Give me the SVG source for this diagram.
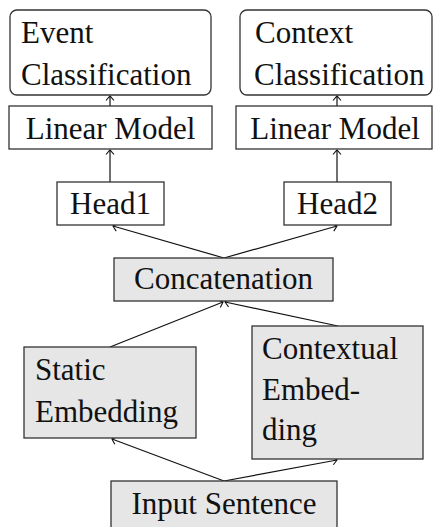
<svg xmlns="http://www.w3.org/2000/svg" width="433" height="527" viewBox="0 0 433 527">
  <defs>
    <!-- open "to"-style arrowhead shared by every connector -->
    <marker id="to" viewBox="-6 -5 8 10" markerWidth="8" markerHeight="10" refX="0" refY="0" orient="auto" markerUnits="userSpaceOnUse">
      <path d="M -4.5,-4 Q -1,-1 0,0 Q -1,1 -4.5,4" fill="none" stroke="#111111" stroke-width="1.1"/>
    </marker>
  </defs>
  <rect x="0" y="0" width="433" height="527" fill="#ffffff"/>

  <!-- connectors -->
  <g id="edges" fill="none" stroke="#111111" stroke-width="1.2" marker-end="url(#to)">
    <line x1="110" y1="106" x2="110" y2="96"/>
    <line x1="337" y1="106" x2="337" y2="96"/>
    <line x1="110" y1="182" x2="110" y2="150"/>
    <line x1="337" y1="182" x2="337" y2="150"/>
    <line x1="224" y1="258" x2="113" y2="226"/>
    <line x1="224" y1="258" x2="337" y2="226"/>
    <line x1="110" y1="347" x2="223" y2="302"/>
    <line x1="338" y1="326" x2="225" y2="302"/>
    <line x1="224" y1="481" x2="112" y2="439"/>
    <line x1="224" y1="481" x2="337" y2="460"/>
  </g>

  <!-- node frames -->
  <g id="event-classification"><rect x="10" y="10" width="201" height="85" rx="7" fill="#ffffff" stroke="#333333" stroke-width="1.3"/></g>
  <text x="21" y="43" font-family="Liberation Serif" font-size="31" fill="#111111">Event</text>
  <text x="21" y="85" font-family="Liberation Serif" font-size="31" fill="#111111">Classification</text>

  <g id="context-classification"><rect x="240" y="10" width="192" height="85" rx="7" fill="#ffffff" stroke="#333333" stroke-width="1.3"/></g>
  <text x="255" y="43" font-family="Liberation Serif" font-size="31" fill="#111111">Context</text>
  <text x="254" y="85" font-family="Liberation Serif" font-size="31" fill="#111111">Classification</text>

  <g id="linear-model-1"><rect x="9" y="106" width="203" height="43" fill="#ffffff" stroke="#333333" stroke-width="1.3"/></g>
  <text x="110.5" y="139" text-anchor="middle" font-family="Liberation Serif" font-size="31" fill="#111111">Linear Model</text>

  <g id="linear-model-2"><rect x="236" y="106" width="196" height="43" fill="#ffffff" stroke="#333333" stroke-width="1.3"/></g>
  <text x="335" y="139" text-anchor="middle" font-family="Liberation Serif" font-size="31" fill="#111111">Linear Model</text>

  <g id="head1"><rect x="57" y="182" width="107" height="43" fill="#ffffff" stroke="#333333" stroke-width="1.3"/></g>
  <text x="110.5" y="214" text-anchor="middle" font-family="Liberation Serif" font-size="31" fill="#111111">Head1</text>

  <g id="head2"><rect x="284" y="182" width="107" height="43" fill="#ffffff" stroke="#333333" stroke-width="1.3"/></g>
  <text x="337.5" y="214" text-anchor="middle" font-family="Liberation Serif" font-size="31" fill="#111111">Head2</text>

  <g id="concatenation"><rect x="114" y="258" width="219" height="43" fill="#e6e6e6" stroke="#333333" stroke-width="1.3"/></g>
  <text x="223.5" y="289" text-anchor="middle" font-family="Liberation Serif" font-size="31" fill="#111111">Concatenation</text>

  <g id="static-embedding"><rect x="24" y="347" width="172" height="91" fill="#e6e6e6" stroke="#333333" stroke-width="1.3"/></g>
  <text x="35" y="380" font-family="Liberation Serif" font-size="31" fill="#111111">Static</text>
  <text x="35" y="422" font-family="Liberation Serif" font-size="31" fill="#111111">Embedding</text>

  <g id="contextual-embedding"><rect x="252" y="326" width="171" height="133" fill="#e6e6e6" stroke="#333333" stroke-width="1.3"/></g>
  <text x="262" y="359" font-family="Liberation Serif" font-size="31" fill="#111111">Contextual</text>
  <text x="262" y="400" font-family="Liberation Serif" font-size="31" fill="#111111">Embed-</text>
  <text x="262" y="440" font-family="Liberation Serif" font-size="31" fill="#111111">ding</text>

  <g id="input-sentence"><rect x="111" y="481" width="226" height="50" fill="#e6e6e6" stroke="#333333" stroke-width="1.3"/></g>
  <text x="224" y="514" text-anchor="middle" font-family="Liberation Serif" font-size="31" fill="#111111">Input Sentence</text>
</svg>
